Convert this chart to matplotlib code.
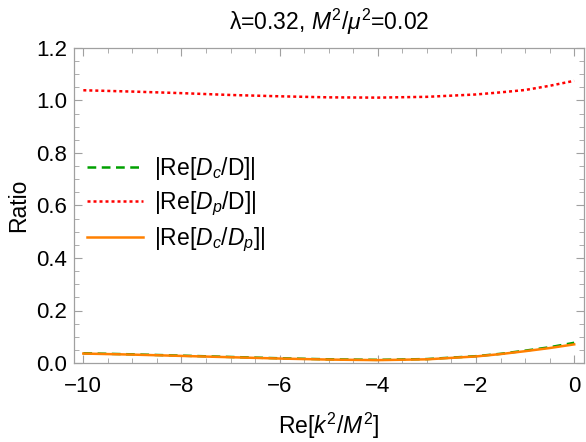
import matplotlib
matplotlib.use("Agg")
import matplotlib.pyplot as plt
from matplotlib.ticker import MultipleLocator, FormatStrFormatter, FuncFormatter

plt.rcParams['font.family'] = ['Liberation Sans', 'DejaVu Sans']
plt.rcParams['mathtext.fontset'] = 'custom'
plt.rcParams['mathtext.rm'] = 'Liberation Sans'
plt.rcParams['mathtext.it'] = 'Liberation Sans:italic'

x = [-10, -9, -8, -7, -6, -5, -4, -3, -2, -1.5, -1, -0.5, 0]
ratio_dc_d = [0.037, 0.033, 0.028, 0.023, 0.018, 0.014, 0.012, 0.015, 0.026, 0.035, 0.047, 0.060, 0.077]
ratio_dp_d = [1.039, 1.034, 1.028, 1.021, 1.016, 1.012, 1.011, 1.014, 1.023, 1.031, 1.040, 1.056, 1.075]
ratio_dc_dp = [0.036, 0.032, 0.027, 0.022, 0.017, 0.013, 0.011, 0.014, 0.025, 0.034, 0.045, 0.057, 0.071]

labels = [r'|Re[$D_c$/D]|', r'|Re[$D_p$/D]|', r'|Re[$D_c$/$D_p$]|']

fig = plt.figure(figsize=(5.86, 4.42), dpi=100)
ax = fig.add_axes([74/586, 79/442, 510/586, 315/442])

ax.plot(x, ratio_dc_d, color='#00A000', lw=1.8, ls=(0, (3.5, 2.2)), label=labels[0])
ax.plot(x, ratio_dp_d, color='#FF0000', lw=1.8, ls=(0, (1.2, 1.2)), label=labels[1])
ax.plot(x, ratio_dc_dp, color='#FF8000', lw=1.8, ls='-', label=labels[2])

ax.set_xlim(-10.19, 0.2)
ax.set_ylim(0, 1.2)
ax.xaxis.set_major_locator(MultipleLocator(2))
ax.xaxis.set_minor_locator(MultipleLocator(0.5))
ax.yaxis.set_major_locator(MultipleLocator(0.2))
ax.yaxis.set_minor_locator(MultipleLocator(0.05))
ax.yaxis.set_major_formatter(FormatStrFormatter('%.1f'))
ax.xaxis.set_major_formatter(FuncFormatter(lambda v, p: ('\u2212%d' % round(-v)) if v < -0.01 else '%d' % round(v)))

for s in ax.spines.values():
    s.set_color('#a0a0a0')
    s.set_linewidth(0.9)
ax.tick_params(which='both', direction='in', top=True, right=True, color='#a0a0a0', labelsize=16, labelcolor='black')
ax.tick_params(which='major', length=6, width=0.8)
ax.tick_params(which='minor', length=3.5, width=0.6)
ax.tick_params(axis='x', which='major', pad=9)
ax.tick_params(axis='y', which='major', pad=5)

ax.set_title(r'$\mathrm{\lambda}$=0.32, $M^2/\mu^2$=0.02', fontsize=16.5, pad=13)
ax.set_xlabel(r'Re[$k^2/M^2$]', fontsize=16.5, labelpad=10)
ax.set_ylabel('Ratio', fontsize=16.5, labelpad=4)

leg = ax.legend(loc='upper left', bbox_to_anchor=(0.0, 0.70), frameon=False, fontsize=16.5,
                handlelength=2.45, handletextpad=0.5, labelspacing=0.32, borderaxespad=0.15)

fig.savefig('out.png', dpi=100)
